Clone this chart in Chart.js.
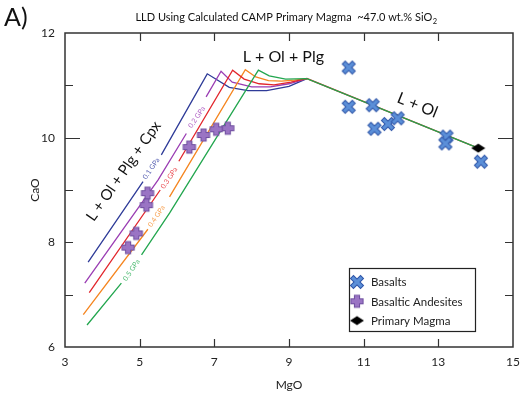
<!DOCTYPE html>
<html lang="en">
<head>
<meta charset="UTF-8">
<title>LLD CaO vs MgO</title>
<script src="https://cdn.jsdelivr.net/npm/chart.js@4/dist/chart.umd.min.js"></script>
<style>
  html, body { margin: 0; padding: 0; background: #fff; }
  #wrap { width: 521px; height: 398px; }
</style>
</head>
<body>
<div id="wrap"><canvas id="myChart" width="521" height="398"></canvas></div>
<script>
// ---- data (MgO, CaO in wt.%) ----
const basaltMgO = [10.60, 10.60, 11.24, 11.29, 11.65, 11.91, 13.22, 13.19, 14.14];
const basaltCaO = [11.34, 10.59, 10.62, 10.17, 10.26, 10.37, 10.02, 9.89, 9.54];

const andesiteMgO = [7.36, 7.05, 6.71, 6.33, 5.21, 5.18, 4.91, 4.69];
const andesiteCaO = [10.18, 10.16, 10.05, 9.82, 8.94, 8.71, 8.17, 7.90];

const primaryMgO = [14.07];
const primaryCaO = [9.80];

// liquid lines of descent, null = break where the pressure label sits
const lld01MgO = [3.62, 5.09, null, 5.58, 6.81, 7.40, 7.90, 8.40, 9.00, 9.48];
const lld01CaO = [7.62, 9.16, null, 9.67, 11.22, 10.96, 10.90, 10.90, 10.98, 11.13];
const lld02MgO = [3.53, 5.49, 6.25, null, 6.78, 7.18, 7.48, 8.00, 8.50, 9.00, 9.48];
const lld02CaO = [7.22, 9.19, 10.08, null, 10.78, 11.27, 11.06, 10.97, 10.97, 11.03, 11.13];
const lld03MgO = [3.65, 5.55, null, 6.05, 7.49, 7.80, 8.20, 8.60, 9.05, 9.48, 14.07];
const lld03CaO = [7.04, 9.00, null, 9.55, 11.29, 11.12, 11.03, 11.01, 11.06, 11.13, 9.80];
const lld04MgO = [3.49, 5.22, null, 5.80, 7.83, 8.11, 8.45, 8.80, 9.15, 9.48];
const lld04CaO = [6.62, 8.25, null, 8.87, 11.30, 11.16, 11.09, 11.08, 11.10, 11.13];
const lld05MgO = [3.59, 4.51, null, 5.05, 5.80, 8.18, 8.47, 8.91, 9.48, 14.07];
const lld05CaO = [6.42, 7.22, null, 7.76, 8.56, 11.29, 11.18, 11.12, 11.13, 9.80];

const pressureLabels = ['0.1 GPa', '0.2 GPa', '0.3 GPa', '0.4 GPa', '0.5 GPa'];
const pressureMgO = [5.31, 6.53, 5.79, 5.45, 4.78];
const pressureCaO = [9.41, 10.39, 9.23, 8.50, 7.47];

const fieldLabels = ['L + Ol + Plg', 'L + Ol', 'L + Ol + Plg + Cpx'];
const fieldMgO = [8.85, 12.44, 4.57];
const fieldCaO = [11.54, 10.62, 9.36];

const legendOrder = ['Basalts', 'Basaltic Andesites', 'Primary Magma'];

const xTickLabels = [3, 5, 7, 9, 11, 13, 15];
const yTickLabels = [6, 8, 10, 12];

// ---- helpers ----
function pts(xs, ys) {
  return xs.map((x, i) => x === null
    ? { x: (xs[i - 1] + xs[i + 1]) / 2, y: null }
    : { x: x, y: ys[i] });
}

function xMarker(fill, edge) {
  const c = document.createElement('canvas');
  c.width = c.height = 16;
  const g = c.getContext('2d');
  const m = 8;
  const seg = (k, w, col) => {
    g.strokeStyle = col; g.lineWidth = w; g.lineCap = 'butt';
    g.beginPath();
    g.moveTo(m - k, m - k); g.lineTo(m + k, m + k);
    g.moveTo(m + k, m - k); g.lineTo(m - k, m + k);
    g.stroke();
  };
  seg(5.4, 5.2, edge);
  seg(4.7, 3.2, fill);
  return c;
}

function plusMarker(fill, edge) {
  const c = document.createElement('canvas');
  c.width = c.height = 16;
  const g = c.getContext('2d');
  const m = 8;
  const seg = (k, w, col) => {
    g.strokeStyle = col; g.lineWidth = w; g.lineCap = 'butt';
    g.beginPath();
    g.moveTo(m - k, m); g.lineTo(m + k, m);
    g.moveTo(m, m - k); g.lineTo(m, m + k);
    g.stroke();
  };
  seg(6.6, 6.2, edge);
  seg(5.6, 4.2, fill);
  return c;
}

function diamondMarker(col) {
  const c = document.createElement('canvas');
  c.width = 16; c.height = 12;
  const g = c.getContext('2d');
  g.fillStyle = col;
  g.beginPath();
  g.moveTo(1, 6); g.lineTo(8, 1.5); g.lineTo(15, 6); g.lineTo(8, 10.5);
  g.closePath(); g.fill();
  return c;
}

const lineColors = ['#2e3b98', '#9a3db3', '#e2262c', '#f5851f', '#22a64e'];
const labelColors = ['#5b64b4', '#b060c4', '#ea4f55', '#f7a050', '#4dbb72'];
const FONT = 'Lato, "Noto Sans", sans-serif';

Chart.defaults.font.family = FONT;
Chart.defaults.color = '#222';

function lld(label, xs, ys, i) {
  return {
    type: 'line', label: label, data: pts(xs, ys), showLine: true,
    borderColor: lineColors[i], borderWidth: 1.3, pointRadius: 0,
    spanGaps: false, tension: 0, fill: false
  };
}

// ---- extra drawing: frame with inward ticks, text, legend ----
const framePlugin = {
  id: 'frame',
  afterDatasetsDraw(chart) {
    const { ctx, chartArea: a, scales: { x, y } } = chart;
    ctx.save();
    ctx.strokeStyle = '#333';
    ctx.lineWidth = 1.5;
    ctx.strokeRect(a.left, a.top, a.right - a.left, a.bottom - a.top);
    ctx.lineWidth = 1.2;
    ctx.beginPath();
    x.ticks.forEach(t => {
      if (t.value <= x.min || t.value >= x.max) return;
      const px = Math.round(x.getPixelForValue(t.value)) + 0.5;
      ctx.moveTo(px, a.bottom); ctx.lineTo(px, a.bottom - 8);
      ctx.moveTo(px, a.top); ctx.lineTo(px, a.top + 8);
    });
    y.ticks.forEach(t => {
      if (t.value <= y.min || t.value >= y.max) return;
      const py = Math.round(y.getPixelForValue(t.value)) + 0.5;
      const len = t.value === 10 ? 15 : 8;
      ctx.moveTo(a.left, py); ctx.lineTo(a.left + len, py);
      ctx.moveTo(a.right, py); ctx.lineTo(a.right - len, py);
    });
    ctx.stroke();

    // pressure labels along the curves
    ctx.textAlign = 'center';
    ctx.textBaseline = 'middle';
    ctx.font = '7px ' + FONT;
    pressureLabels.forEach((s, i) => {
      ctx.save();
      ctx.translate(x.getPixelForValue(pressureMgO[i]), y.getPixelForValue(pressureCaO[i]));
      ctx.rotate(-56 * Math.PI / 180);
      ctx.fillStyle = labelColors[i];
      ctx.fillText(s, 0, 0);
      ctx.restore();
    });

    // phase field labels
    const angles = [0, 22, -55];
    const sizes = [16, 16, 15];
    fieldLabels.forEach((s, i) => {
      ctx.save();
      ctx.translate(x.getPixelForValue(fieldMgO[i]), y.getPixelForValue(fieldCaO[i]));
      ctx.rotate(angles[i] * Math.PI / 180);
      ctx.fillStyle = '#111';
      ctx.font = sizes[i] + 'px ' + FONT;
      ctx.fillText(s, 0, 0);
      ctx.restore();
    });
    ctx.restore();
  },
  afterDraw(chart) {
    const { ctx, chartArea: a } = chart;
    ctx.save();
    // panel letter
    ctx.fillStyle = '#111';
    ctx.textBaseline = 'alphabetic';
    ctx.textAlign = 'left';
    ctx.font = '25px ' + FONT;
    ctx.fillText('A)', 4, 26);

    // title with subscript
    const main = 'LLD Using Calculated CAMP Primary Magma  ~47.0 wt.% SiO';
    ctx.font = '11px ' + FONT;
    const w1 = ctx.measureText(main).width;
    ctx.font = '7.5px ' + FONT;
    const w2 = ctx.measureText('2').width;
    const cx = (a.left + a.right) / 2 - 3;
    const x0 = cx - (w1 + w2) / 2;
    ctx.font = '11px ' + FONT;
    ctx.fillText(main, x0, 21);
    ctx.font = '7.5px ' + FONT;
    ctx.fillText('2', x0 + w1 + 0.5, 24);

    // legend box
    const lx = a.right - 164, ly = a.bottom - 79, lw = 126, lh = 63;
    ctx.fillStyle = '#fff';
    ctx.fillRect(lx, ly, lw, lh);
    ctx.strokeStyle = '#222';
    ctx.lineWidth = 1.2;
    ctx.strokeRect(lx + 0.5, ly + 0.5, lw, lh);
    ctx.font = '11.5px ' + FONT;
    ctx.textBaseline = 'middle';
    legendOrder.forEach((name, i) => {
      const ds = chart.data.datasets.find(d => d.label === name);
      const cy = ly + 14 + i * 19.3;
      const img = ds.pointStyle;
      ctx.drawImage(img, lx + 8 - img.width / 2, cy - img.height / 2);
      ctx.fillStyle = '#222';
      ctx.fillText(ds.label, lx + 22, cy + 0.5);
    });
    ctx.restore();
  }
};

const basaltIcon = xMarker('#5b8fd8', '#2f55a8');
const andesiteIcon = plusMarker('#9a74c4', '#6e4e9f');
const primaryIcon = diamondMarker('#000');

const ctx = document.getElementById('myChart');
const myChart = new Chart(ctx, {
  type: 'scatter',
  data: {
    datasets: [
      { label: 'Primary Magma', data: pts(primaryMgO, primaryCaO), pointStyle: primaryIcon, pointRadius: 7 },
      { label: 'Basalts', data: pts(basaltMgO, basaltCaO), pointStyle: basaltIcon, pointRadius: 7 },
      { label: 'Basaltic Andesites', data: pts(andesiteMgO, andesiteCaO), pointStyle: andesiteIcon, pointRadius: 7 },
      lld('0.5 GPa', lld05MgO, lld05CaO, 4),
      lld('0.3 GPa', lld03MgO, lld03CaO, 2),
      lld('0.4 GPa', lld04MgO, lld04CaO, 3),
      lld('0.2 GPa', lld02MgO, lld02CaO, 1),
      lld('0.1 GPa', lld01MgO, lld01CaO, 0)
    ]
  },
  options: {
    responsive: false,
    animation: false,
    events: [],
    layout: { padding: { top: 33, right: 6, left: 0, bottom: 0 } },
    plugins: {
      legend: { display: false },
      tooltip: { enabled: false },
      title: { display: false }
    },
    scales: {
      x: {
        type: 'linear', min: 3, max: 15,
        grid: { display: false, drawTicks: false },
        border: { display: false },
        ticks: {
          stepSize: 2, padding: 8, color: '#222', font: { size: 12 },
          callback: v => xTickLabels.includes(v) ? String(v) : ''
        },
        title: { display: true, text: 'MgO', color: '#222', font: { size: 12 }, padding: { top: 0, bottom: 6 } },
        afterFit: s => { s.height = 51; s.paddingLeft = 0; s.paddingRight = 0; }
      },
      y: {
        type: 'linear', min: 6, max: 12,
        grid: { display: false, drawTicks: false },
        border: { display: false },
        ticks: {
          stepSize: 1, padding: 10, color: '#222', font: { size: 12 },
          callback: v => yTickLabels.includes(v) ? String(v) : ''
        },
        title: { display: true, text: 'CaO', color: '#222', font: { size: 12 }, padding: { top: 28, bottom: 0 } },
        afterFit: s => { s.width = 65; s.paddingTop = 0; s.paddingBottom = 0; }
      }
    }
  },
  plugins: [framePlugin]
});
</script>
</body>
</html>
